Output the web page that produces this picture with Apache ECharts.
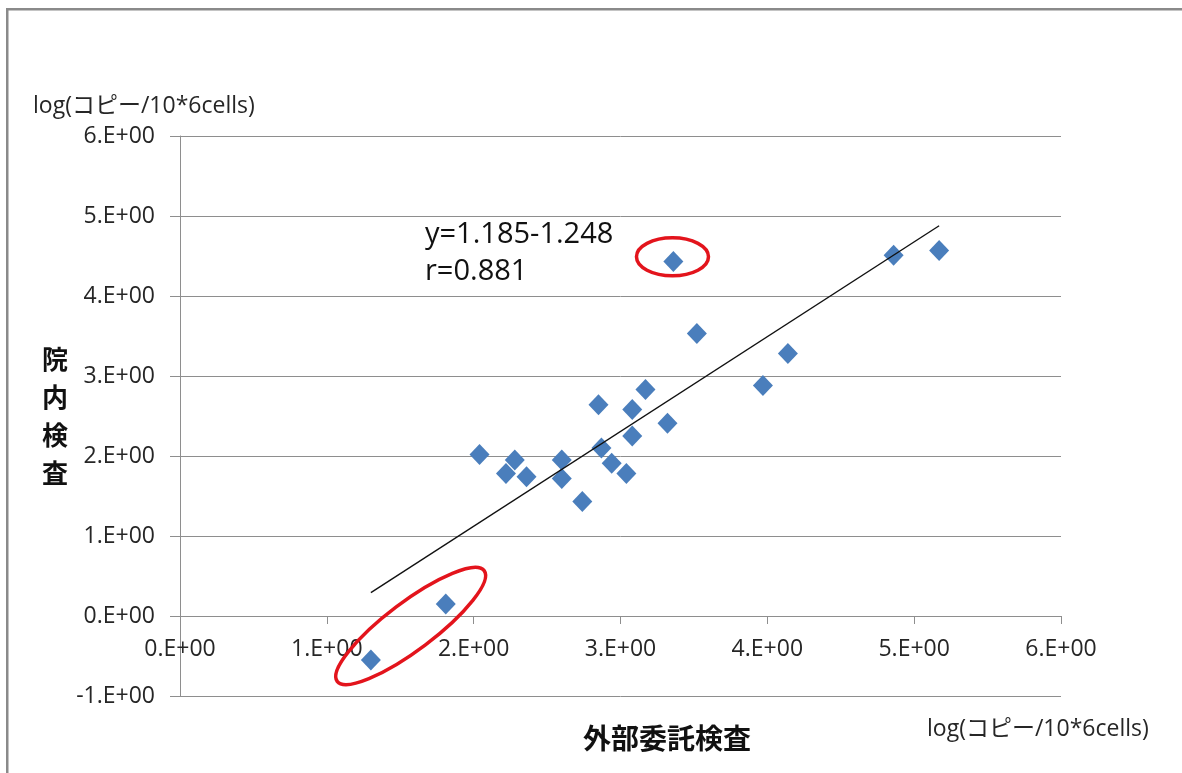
<!DOCTYPE html>
<html>
<head>
<meta charset="utf-8">
<script src="https://cdn.jsdelivr.net/npm/echarts@6/dist/echarts.min.js"></script>
<style>
  html, body { margin: 0; padding: 0; background: #fff; }
  #chart { width: 1182px; height: 773px; }
</style>
</head>
<body>
<div id="chart"></div>
<script>
// log copies per 10^6 cells: external lab (x) vs in-house assay (y)
const externalLog = [1.30, 1.81, 2.04, 2.22, 2.28, 2.36, 2.60, 2.60, 2.74, 2.85, 2.87, 2.94,
                     3.04, 3.08, 3.08, 3.17, 3.32, 3.36, 3.52, 3.97, 4.14, 4.86, 5.17];
const inHouseLog  = [-0.55, 0.15, 2.02, 1.78, 1.95, 1.74, 1.95, 1.72, 1.43, 2.64, 2.10, 1.91,
                     1.78, 2.58, 2.25, 2.83, 2.41, 4.43, 3.53, 2.88, 3.28, 4.51, 4.57];

// regression shown on the chart
const fitSlope = 1.185;
const fitIntercept = -1.248;
const fitR = 0.881;

const xTickLabels = ['0.E+00', '1.E+00', '2.E+00', '3.E+00', '4.E+00', '5.E+00', '6.E+00'];
const yTickLabels = ['-1.E+00', '0.E+00', '1.E+00', '2.E+00', '3.E+00', '4.E+00', '5.E+00', '6.E+00'];
const xMin = 0, xMax = 6, yMin = -1, yMax = 6;

const unitLabel = 'log(コピー/10*6cells)';
const xTitle = '外部委託検査';
const yTitle = '院内検査';

// highlighted points (data coordinates of the ring centres)
const highlightSingle = [3.354, 4.49];
const highlightPair = [1.571, -0.125];

const points = externalLog.map((x, i) => [x, inHouseLog[i]]);
const fitX0 = Math.min(...externalLog);
const fitX1 = Math.max(...externalLog);
const fitLine = [[fitX0, fitSlope * fitX0 + fitIntercept], [fitX1, fitSlope * fitX1 + fitIntercept]];

const LATIN = "'Open Sans', 'Noto Sans CJK JP', sans-serif";
const CJK = "'Noto Sans CJK JP', sans-serif";
const GRID = '#8e8e8e';
const TEXT = '#262626';

// plot box
const GRID_TOP = 136, GRID_BOTTOM = 77, GRID_LEFT = 180, GRID_RIGHT = 121;
const plotHeight = 773 - GRID_TOP - GRID_BOTTOM;
// the x axis crosses the y axis at y = 0
const xAxisOffset = -(0 - yMin) * plotHeight / (yMax - yMin);

const chart = echarts.init(document.getElementById('chart'), null, { renderer: 'canvas' });

const option = {
  backgroundColor: '#ffffff',
  animation: false,
  grid: { left: GRID_LEFT, top: GRID_TOP, right: GRID_RIGHT, bottom: GRID_BOTTOM, containLabel: false },
  xAxis: {
    type: 'value', min: xMin, max: xMax, interval: 1,
    position: 'bottom',
    offset: xAxisOffset,
    axisLine: { show: true, onZero: false, lineStyle: { color: GRID, width: 1 } },
    axisTick: { show: true, length: 8, lineStyle: { color: GRID } },
    splitLine: { show: false },
    axisLabel: {
      margin: 22, color: TEXT, fontFamily: LATIN, fontSize: 23,
      formatter: v => xTickLabels[Math.round(v - xMin)]
    }
  },
  yAxis: {
    type: 'value', min: yMin, max: yMax, interval: 1,
    axisLine: { show: true, onZero: false, lineStyle: { color: GRID, width: 1 } },
    axisTick: { show: true, length: 10, lineStyle: { color: GRID } },
    splitLine: { show: true, lineStyle: { color: GRID, width: 1 } },
    axisLabel: {
      margin: 25, color: TEXT, fontFamily: LATIN, fontSize: 23,
      formatter: v => yTickLabels[Math.round(v - yMin)]
    }
  },
  series: [
    {
      type: 'scatter',
      data: points,
      symbol: 'diamond',
      symbolSize: [20, 21],
      itemStyle: { color: '#4A7EBC', opacity: 1 },
      z: 3
    },
    {
      type: 'line',
      data: fitLine,
      symbol: 'none',
      lineStyle: { color: '#111', width: 1.4 },
      z: 4
    }
  ],
  graphic: [
    // frame edges
    { type: 'rect', shape: { x: 6, y: 8, width: 1176, height: 2.5 }, style: { fill: '#8a8a8a' }, silent: true },
    { type: 'rect', shape: { x: 6, y: 8, width: 2.5, height: 765 }, style: { fill: '#8a8a8a' }, silent: true },
    // unit label above the y axis
    { type: 'text', x: 33, y: 106, style: { text: unitLabel, font: `23px ${LATIN}`, fill: TEXT, verticalAlign: 'middle', align: 'left' } },
    // unit label at the right under the x axis
    { type: 'text', x: 927, y: 729, style: { text: unitLabel, font: `23px ${LATIN}`, fill: TEXT, verticalAlign: 'middle', align: 'left' } },
    // axis titles
    { type: 'text', x: 667, y: 738, style: { text: xTitle, font: `bold 28px ${CJK}`, fill: '#111', align: 'center', verticalAlign: 'middle' } },
    { type: 'text', x: 55, y: 416, style: { text: yTitle.split('').join('\n'), font: `bold 26px ${CJK}`, lineHeight: 38, fill: '#111', align: 'center', verticalAlign: 'middle' } },
    // regression text
    { type: 'text', x: 425, y: 235, style: { text: `y=${fitSlope}-${Math.abs(fitIntercept)}`, font: `29px ${LATIN}`, fill: '#111', align: 'left', verticalAlign: 'middle' } },
    { type: 'text', x: 425, y: 272, style: { text: `r=${fitR}`, font: `29px ${LATIN}`, fill: '#111', align: 'left', verticalAlign: 'middle' } }
  ]
};

chart.setOption(option);

// red rings around the highlighted points, anchored in data space
const p1 = chart.convertToPixel({ gridIndex: 0 }, highlightSingle);
const p2 = chart.convertToPixel({ gridIndex: 0 }, highlightPair);
const ring = { fill: 'none', stroke: '#E3141C', lineWidth: 3.5 };
chart.setOption({
  graphic: option.graphic.concat([
    { type: 'ellipse', x: p1[0], y: p1[1], shape: { cx: 0, cy: 0, rx: 36, ry: 19 }, style: ring, z: 10 },
    { type: 'ellipse', x: p2[0], y: p2[1], rotation: 37 * Math.PI / 180, shape: { cx: 0, cy: 0, rx: 92, ry: 24 }, style: ring, z: 10 }
  ])
}, { replaceMerge: ['graphic'] });
</script>
</body>
</html>
